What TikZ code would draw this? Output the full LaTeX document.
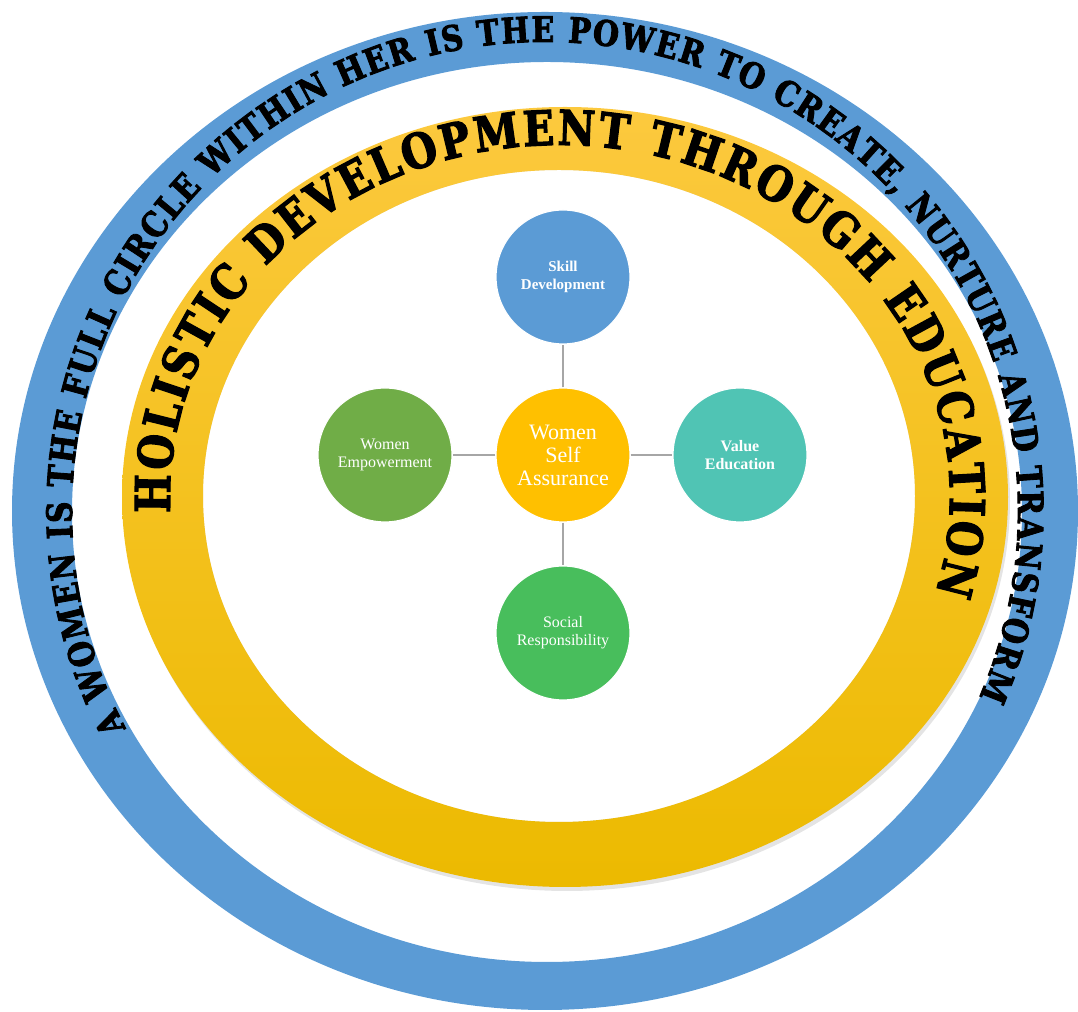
\documentclass[tikz,border=0pt]{standalone}
\usepackage{fontspec}
\setmainfont{Liberation Serif}
\newfontfamily\slabfont{DejaVu Serif}[FakeStretch=0.85,BoldFeatures={FakeBold=2.5}]
\usetikzlibrary{decorations.text,positioning}
\definecolor{ringblue}{RGB}{91,155,213}
\definecolor{goldtop}{RGB}{252,201,62}
\definecolor{goldbot}{RGB}{236,186,0}
\definecolor{skillblue}{RGB}{91,155,213}
\definecolor{selfgold}{RGB}{255,192,0}
\definecolor{empgreen}{RGB}{112,173,71}
\definecolor{valteal}{RGB}{80,196,180}
\definecolor{socgreen}{RGB}{72,190,92}
\tikzset{
  wsnode/.style={circle,minimum size=67pt,inner sep=0pt,draw=white,line width=0.6pt,text=white,align=center,font=\fontsize{8}{9}\selectfont},
  wsarc/.style={gray!70,line width=1pt},
  ringtext/.style={decorate,decoration={text along path,text align={fit to path},text={#1}}}
}

\begin{document}
\begin{tikzpicture}[x=0.5pt,y=0.5pt]
  \useasboundingbox (0,0) rectangle (1078,1012);
  \fill[ringblue,even odd rule] (545,501) ellipse[x radius=533,y radius=499] (547,500) ellipse[x radius=475,y radius=450];
  \fill[black!30,opacity=0.35,even odd rule] (567,511) ellipse[x radius=443,y radius=390] (559,516) ellipse[x radius=356,y radius=326];
  \shade[top color=goldtop,bottom color=goldbot,even odd rule] (565,515) ellipse[x radius=443,y radius=390] (559,516) ellipse[x radius=356,y radius=326];
  \path[ringtext={|\slabfont\bfseries\fontsize{17.5}{18}\selectfont|A WOMEN IS THE FULL CIRCLE WITHIN HER IS THE POWER TO CREATE, NURTURE AND TRANSFORM}]
    (545,501) ++(207.6:473 and 469) arc[start angle=207.6,end angle=-23.4,x radius=473,y radius=469];
  \path[ringtext={|\slabfont\bfseries\fontsize{24}{25}\selectfont|HOLISTIC DEVELOPMENT THROUGH EDUCATION}]
    (560,515) ++(182.6:390 and 352) arc[start angle=182.6,end angle=-15.8,x radius=390,y radius=352];
  \node[wsnode,fill=selfgold,font=\fontsize{11}{11.5}\selectfont] (self) at (563,557) {Women\\Self\\Assurance};
  \node[wsnode,fill=skillblue,font=\bfseries\fontsize{7.5}{9}\selectfont] (skill) at (563,735) {Skill\\Development};
  \node[wsnode,fill=empgreen] (empower) at (385,557) {Women\\Empowerment};
  \node[wsnode,fill=valteal,font=\bfseries\fontsize{8}{9}\selectfont] (value) at (740,557) {Value\\Education};
  \node[wsnode,fill=socgreen] (social) at (563,379) {Social\\Responsibility};
  \draw[wsarc] (self) -- (skill);
  \draw[wsarc] (self) -- (empower);
  \draw[wsarc] (self) -- (value);
  \draw[wsarc] (self) -- (social);
\end{tikzpicture}
\end{document}
